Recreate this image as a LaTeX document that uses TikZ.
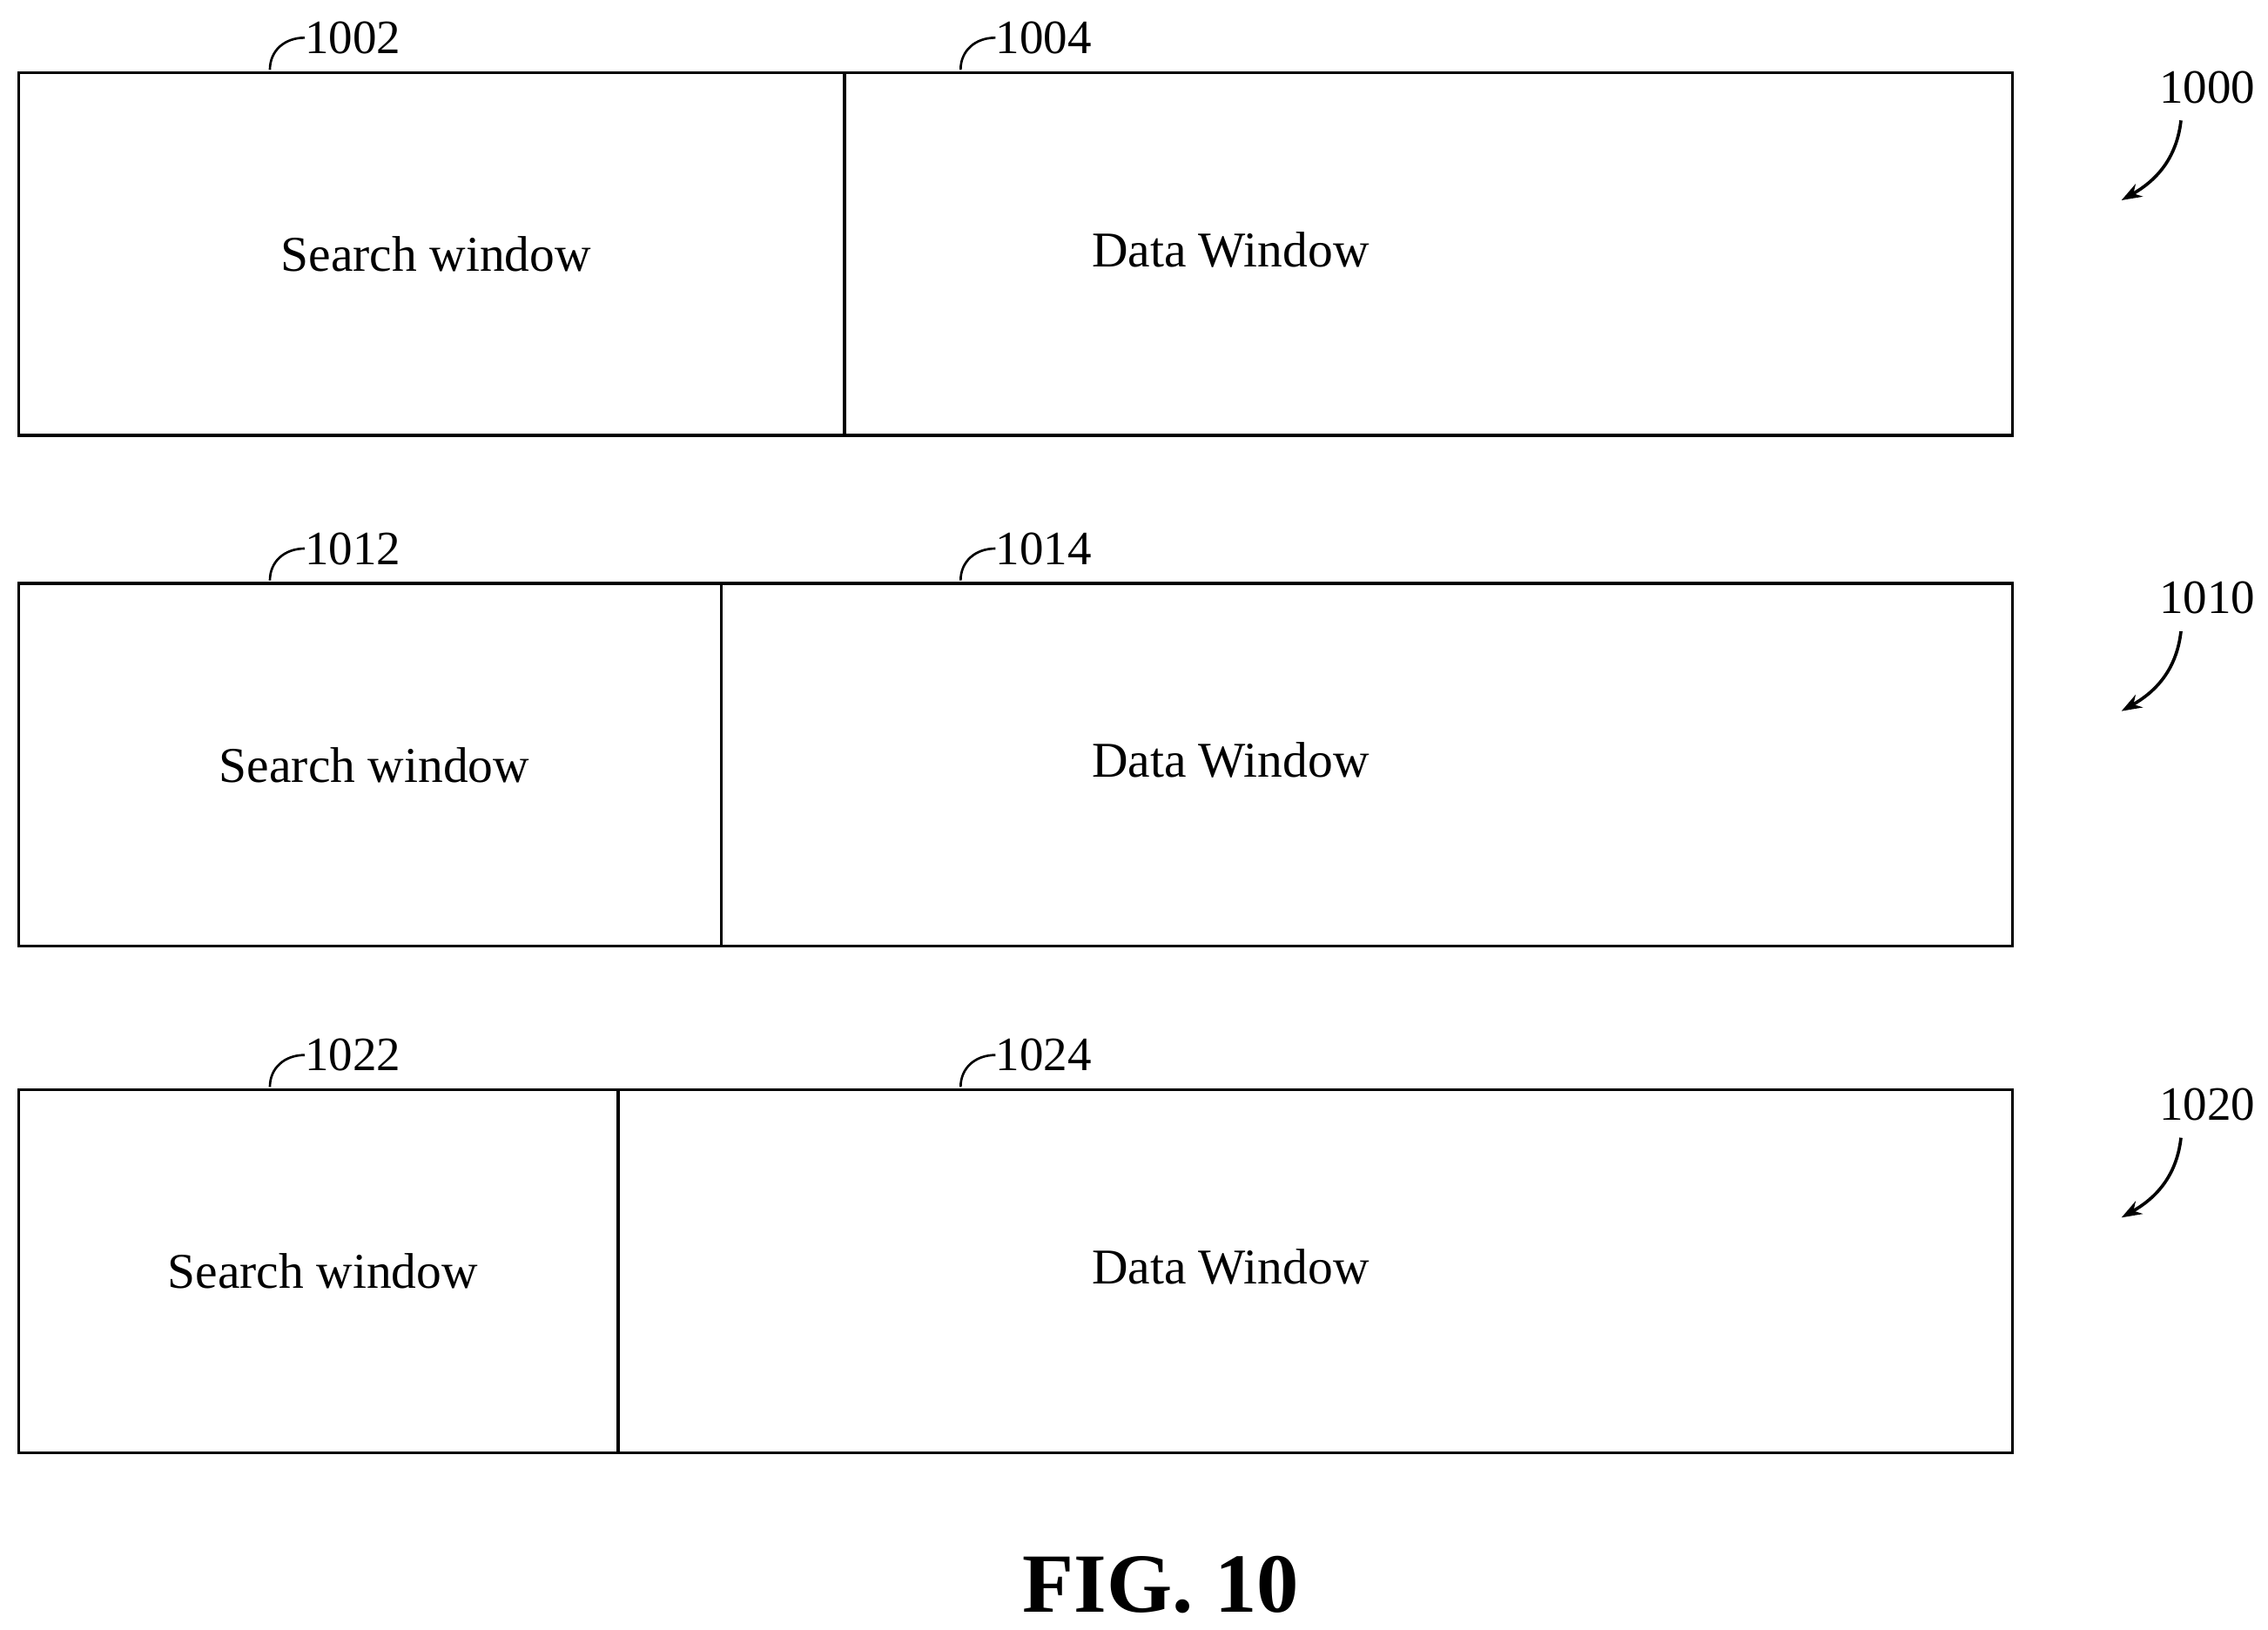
\documentclass[tikz,border=0pt]{standalone}
\usepackage{fontspec}
\setmainfont{Liberation Serif}
\usetikzlibrary{arrows.meta}
\begin{document}
\begin{tikzpicture}[x=1pt,y=-1pt,
  box/.style={draw,line width=2pt},
  txt/.style={font=\fontsize{34.5}{38}\selectfont},
  num/.style={font=\fontsize{33}{36}\selectfont,anchor=west,inner sep=0pt},
  lead/.style={line width=1.6pt},
  arr/.style={line width=2.2pt,-{Stealth[length=14pt,width=10pt]}}]
\fill[white] (0,0) rectangle (1563,1123);
\foreach \y/\d/\a/\b/\c/\s in {50/582/1002/1004/1000/0,402/497/1012/1014/1010/1,751/426/1022/1024/1020/2}{
  \draw[box] (13,\y) rectangle (1387,\y+250);
  \draw[box] (\d,\y) -- (\d,\y+250);
  \node[txt] (s\s) at ({(13+\d)/2+3},\y+125) {Search window};
  \node[txt] (d\s) at (848,\y+122) {Data Window};
  \node[num] (na\s) at (210,\y-24) {\a};
  \node[num] (nb\s) at (686,\y-24) {\b};
  \node[num] (nc\s) at (1488,\y+10) {\c};
  \draw[lead] (186,\y-2) .. controls (186,\y-15) and (196,\y-24) .. (na\s.west);
  \draw[lead] (662,\y-2) .. controls (662,\y-15) and (672,\y-24) .. (nb\s.west);
  \draw[arr] (1503,\y+33) .. controls (1500,\y+60) and (1485,\y+75) .. (1462,\y+88);
}
\node[font=\bfseries\fontsize{58}{62}\selectfont] (fig) at (800,1092) {FIG. 10};
\useasboundingbox (0,0) rectangle (1563,1123);
\end{tikzpicture}
\end{document}
